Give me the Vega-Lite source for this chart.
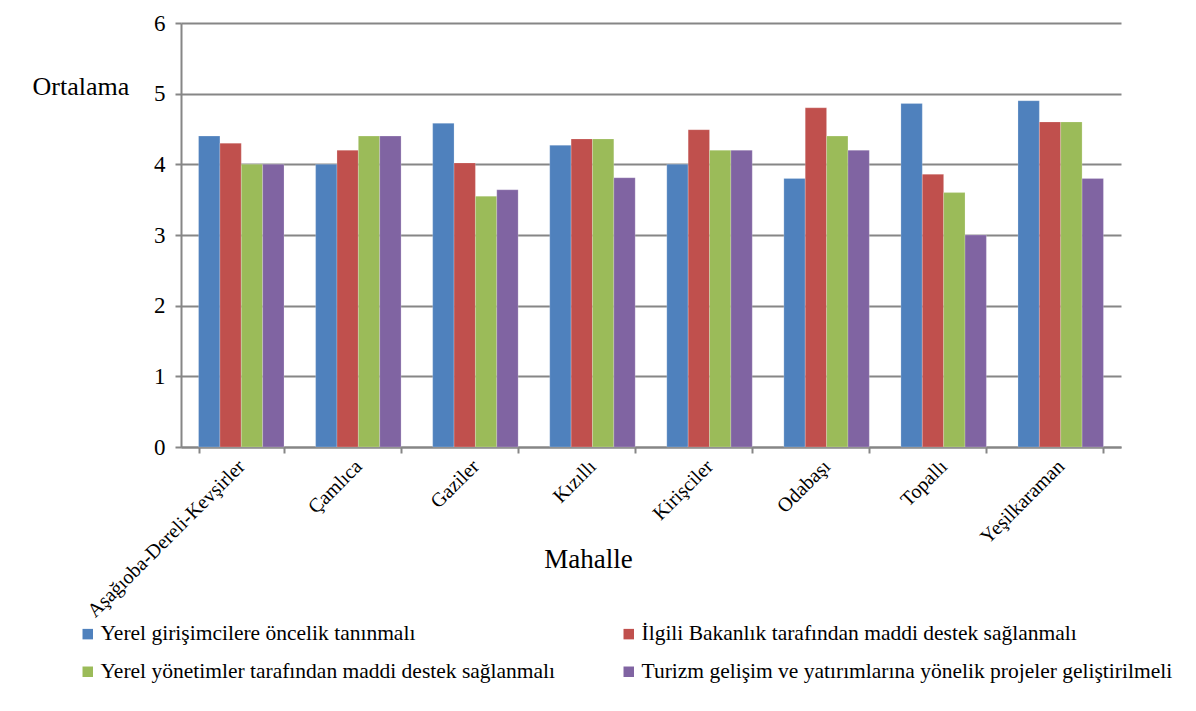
{
  "$schema": "https://vega.github.io/schema/vega-lite/v6.json",
  "width": 940,
  "height": 424,
  "autosize": {"type": "none"},
  "padding": {"left": 181, "top": 23, "right": 75, "bottom": 264},
  "background": "white",
  "config": {
    "font": "Liberation Serif",
    "view": {"stroke": null}
  },
  "data": {
    "values": [
      {"mahalle": "Aşağıoba-Dereli-Kevşirler", "seri": "Yerel girişimcilere öncelik tanınmalı", "ortalama": 4.40},
      {"mahalle": "Aşağıoba-Dereli-Kevşirler", "seri": "İlgili Bakanlık tarafından maddi destek sağlanmalı", "ortalama": 4.30},
      {"mahalle": "Aşağıoba-Dereli-Kevşirler", "seri": "Yerel yönetimler tarafından maddi destek sağlanmalı", "ortalama": 4.00},
      {"mahalle": "Aşağıoba-Dereli-Kevşirler", "seri": "Turizm gelişim ve yatırımlarına yönelik projeler geliştirilmeli", "ortalama": 4.00},
      {"mahalle": "Çamlıca", "seri": "Yerel girişimcilere öncelik tanınmalı", "ortalama": 4.00},
      {"mahalle": "Çamlıca", "seri": "İlgili Bakanlık tarafından maddi destek sağlanmalı", "ortalama": 4.20},
      {"mahalle": "Çamlıca", "seri": "Yerel yönetimler tarafından maddi destek sağlanmalı", "ortalama": 4.40},
      {"mahalle": "Çamlıca", "seri": "Turizm gelişim ve yatırımlarına yönelik projeler geliştirilmeli", "ortalama": 4.40},
      {"mahalle": "Gaziler", "seri": "Yerel girişimcilere öncelik tanınmalı", "ortalama": 4.58},
      {"mahalle": "Gaziler", "seri": "İlgili Bakanlık tarafından maddi destek sağlanmalı", "ortalama": 4.02},
      {"mahalle": "Gaziler", "seri": "Yerel yönetimler tarafından maddi destek sağlanmalı", "ortalama": 3.55},
      {"mahalle": "Gaziler", "seri": "Turizm gelişim ve yatırımlarına yönelik projeler geliştirilmeli", "ortalama": 3.64},
      {"mahalle": "Kızıllı", "seri": "Yerel girişimcilere öncelik tanınmalı", "ortalama": 4.27},
      {"mahalle": "Kızıllı", "seri": "İlgili Bakanlık tarafından maddi destek sağlanmalı", "ortalama": 4.36},
      {"mahalle": "Kızıllı", "seri": "Yerel yönetimler tarafından maddi destek sağlanmalı", "ortalama": 4.36},
      {"mahalle": "Kızıllı", "seri": "Turizm gelişim ve yatırımlarına yönelik projeler geliştirilmeli", "ortalama": 3.81},
      {"mahalle": "Kirişciler", "seri": "Yerel girişimcilere öncelik tanınmalı", "ortalama": 4.00},
      {"mahalle": "Kirişciler", "seri": "İlgili Bakanlık tarafından maddi destek sağlanmalı", "ortalama": 4.49},
      {"mahalle": "Kirişciler", "seri": "Yerel yönetimler tarafından maddi destek sağlanmalı", "ortalama": 4.20},
      {"mahalle": "Kirişciler", "seri": "Turizm gelişim ve yatırımlarına yönelik projeler geliştirilmeli", "ortalama": 4.20},
      {"mahalle": "Odabaşı", "seri": "Yerel girişimcilere öncelik tanınmalı", "ortalama": 3.80},
      {"mahalle": "Odabaşı", "seri": "İlgili Bakanlık tarafından maddi destek sağlanmalı", "ortalama": 4.80},
      {"mahalle": "Odabaşı", "seri": "Yerel yönetimler tarafından maddi destek sağlanmalı", "ortalama": 4.40},
      {"mahalle": "Odabaşı", "seri": "Turizm gelişim ve yatırımlarına yönelik projeler geliştirilmeli", "ortalama": 4.20},
      {"mahalle": "Topallı", "seri": "Yerel girişimcilere öncelik tanınmalı", "ortalama": 4.86},
      {"mahalle": "Topallı", "seri": "İlgili Bakanlık tarafından maddi destek sağlanmalı", "ortalama": 3.86},
      {"mahalle": "Topallı", "seri": "Yerel yönetimler tarafından maddi destek sağlanmalı", "ortalama": 3.60},
      {"mahalle": "Topallı", "seri": "Turizm gelişim ve yatırımlarına yönelik projeler geliştirilmeli", "ortalama": 3.00},
      {"mahalle": "Yeşilkaraman", "seri": "Yerel girişimcilere öncelik tanınmalı", "ortalama": 4.90},
      {"mahalle": "Yeşilkaraman", "seri": "İlgili Bakanlık tarafından maddi destek sağlanmalı", "ortalama": 4.60},
      {"mahalle": "Yeşilkaraman", "seri": "Yerel yönetimler tarafından maddi destek sağlanmalı", "ortalama": 4.60},
      {"mahalle": "Yeşilkaraman", "seri": "Turizm gelişim ve yatırımlarına yönelik projeler geliştirilmeli", "ortalama": 3.80}
    ]
  },
  "mark": {"type": "bar", "stroke": "white", "strokeOpacity": 0.35, "strokeWidth": 0.6},
  "encoding": {
    "x": {
      "field": "mahalle",
      "type": "nominal",
      "sort": null,
      "scale": {"paddingInner": 0.27, "paddingOuter": 0.15},
      "axis": {
        "title": "Mahalle",
        "titleFont": "Liberation Serif",
        "titleFontSize": 27,
        "titleFontWeight": "normal",
        "titleColor": "black",
        "titleAnchor": "start",
        "titleAlign": "center",
        "titleBaseline": "alphabetic",
        "titleX": 407,
        "titleY": 120,
        "labelAngle": -45,
        "labelAlign": "right",
        "labelBaseline": "middle",
        "labelFont": "Liberation Serif",
        "labelFontSize": 20,
        "labelColor": "black",
        "labelLimit": 400,
        "labelPadding": 10,
        "labelOffset": 0,
        "tickBand": "extent",
        "tickColor": "#868686",
        "tickWidth": 2,
        "tickSize": 6,
        "domainColor": "#868686",
        "domainWidth": 2,
        "grid": false
      }
    },
    "xOffset": {
      "field": "seri",
      "type": "nominal",
      "sort": [
        "Yerel girişimcilere öncelik tanınmalı",
        "İlgili Bakanlık tarafından maddi destek sağlanmalı",
        "Yerel yönetimler tarafından maddi destek sağlanmalı",
        "Turizm gelişim ve yatırımlarına yönelik projeler geliştirilmeli"
      ],
      "scale": {"paddingInner": 0, "paddingOuter": 0}
    },
    "y": {
      "field": "ortalama",
      "type": "quantitative",
      "scale": {"domain": [0, 6], "nice": false},
      "axis": {
        "title": "Ortalama",
        "titleFont": "Liberation Serif",
        "titleFontSize": 26,
        "titleFontWeight": "normal",
        "titleColor": "black",
        "titleAngle": 0,
        "titleAlign": "left",
        "titleBaseline": "alphabetic",
        "titleX": -149,
        "titleY": 71,
        "values": [0, 1, 2, 3, 4, 5, 6],
        "labelFont": "Liberation Serif",
        "labelFontSize": 23,
        "labelColor": "black",
        "labelPadding": 10,
        "tickColor": "#868686",
        "tickWidth": 2,
        "tickSize": 6,
        "domainColor": "#868686",
        "domainWidth": 2,
        "gridColor": "#868686",
        "gridWidth": 2
      }
    },
    "color": {
      "field": "seri",
      "type": "nominal",
      "sort": [
        "Yerel girişimcilere öncelik tanınmalı",
        "İlgili Bakanlık tarafından maddi destek sağlanmalı",
        "Yerel yönetimler tarafından maddi destek sağlanmalı",
        "Turizm gelişim ve yatırımlarına yönelik projeler geliştirilmeli"
      ],
      "scale": {"range": ["#4F81BD", "#C0504D", "#9BBB59", "#8064A2"]},
      "legend": {
        "title": null,
        "orient": "none",
        "legendX": -104,
        "legendY": 600,
        "direction": "horizontal",
        "columns": 2,
        "columnPadding": 62,
        "rowPadding": 15,
        "symbolType": "square",
        "symbolSize": 110,
        "symbolStrokeWidth": 0,
        "labelFont": "Times New Roman",
        "labelFontSize": 21.5,
        "labelColor": "black",
        "labelOffset": 2,
        "labelLimit": 600
      }
    }
  }
}
